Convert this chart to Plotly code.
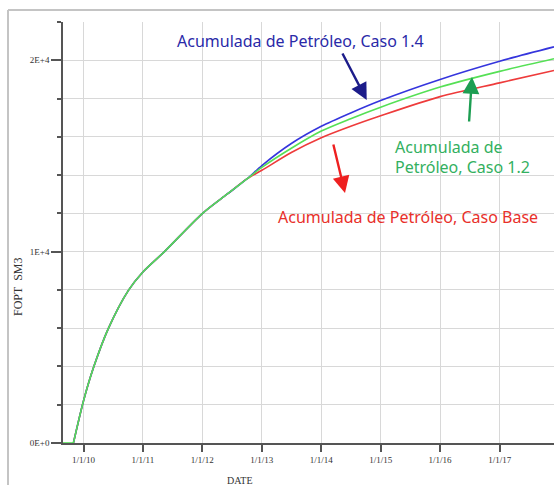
import plotly.graph_objects as go

# ---------------- data ----------------
shared_dates = ["2009-10-31", "2010-01-01", "2010-03-05", "2010-06-03",
                "2010-10-05", "2011-01-01", "2011-05-12", "2012-01-01", "2012-06-01",
                "2012-10-01"]
shared_vals = [0, 2200, 3980, 5990, 7990, 8940, 9990, 11990, 13000, 13800]
flat_dates = ["2009-08-28", "2009-10-31"]
flat_vals = [0, 0]

tail_dates = ["2013-01-01", "2013-07-01", "2014-01-01", "2014-07-01", "2015-01-01",
              "2016-01-01", "2017-01-01", "2017-12-01"]
caso_base = [14250, 15180, 15950, 16550, 17100, 18100, 18820, 19470]
caso_14 = [14500, 15650, 16550, 17250, 17900, 19000, 19950, 20700]
caso_12 = [14400, 15400, 16300, 16950, 17550, 18600, 19420, 20080]

year_ticks = ["2010-01-01", "2011-01-01", "2012-01-01", "2013-01-01", "2014-01-01",
              "2015-01-01", "2016-01-01", "2017-01-01", "2018-01-01"]
year_labels = ["1/1/10", "1/1/11", "1/1/12", "1/1/13", "1/1/14",
               "1/1/15", "1/1/16", "1/1/17", "1/1/18"]
y_tickvals = [0, 10000, 20000]
y_ticklabels = ["0E+0", "1E+4", "2E+4"]

# ---------------- layout geometry ----------------
W, H = 554, 485
ML, MR, MT, MB = 63, 0, 22, 42
PW, PH = W - ML - MR, H - MT - MB


def px(x):
    return (x - ML) / PW


def py(y):
    return 1 - (y - MT) / PH


fig = go.Figure()
series = [("Caso Base", caso_base, "#ee3b3b"),
          ("Caso 1.4", caso_14, "#3535dd"),
          ("Caso 1.2", caso_12, "#55e055")]
for name, vals, col in series:
    fig.add_trace(go.Scatter(
        x=shared_dates + tail_dates, y=shared_vals + vals, mode="lines",
        name=name, line=dict(color=col, width=1.6, shape="spline", smoothing=0.8),
        showlegend=False, hoverinfo="skip", cliponaxis=False))
fig.add_trace(go.Scatter(x=flat_dates, y=flat_vals, mode="lines",
                         line=dict(color="#55e055", width=1.6),
                         showlegend=False, hoverinfo="skip", cliponaxis=False))

serif = "Liberation Serif"
axcol = "#555555"
gridcol = "#d8d8d8"

fig.update_xaxes(
    type="date", range=["2009-08-28", "2017-12-01"],
    tickvals=year_ticks, ticktext=year_labels,
    ticks="outside", ticklen=7, tickcolor=axcol, tickwidth=1.5,
    showline=True, linecolor=axcol, linewidth=1.5,
    showgrid=True, gridcolor=gridcol, gridwidth=1,
    tickfont=dict(family=serif, size=9, color="#333333"),
    zeroline=False, fixedrange=True)
fig.update_yaxes(
    range=[0, 22000],
    tickvals=y_tickvals, ticktext=y_ticklabels,
    ticks="outside", ticklen=10, tickcolor=axcol, tickwidth=1.5,
    showline=True, linecolor=axcol, linewidth=1.5,
    showgrid=True, gridcolor=gridcol, gridwidth=1,
    minor=dict(dtick=2000, tick0=0, ticks="outside", ticklen=4, tickcolor=axcol,
               showgrid=True, gridcolor=gridcol),
    tickfont=dict(family=serif, size=9, color="#333333"),
    zeroline=False, fixedrange=True)

annots = []
sans = "Noto Sans"
fs = 16
# texts
annots.append(dict(xref="paper", yref="paper", x=px(300), y=py(41), showarrow=False,
                   text="Acumulada de Petróleo, Caso 1.4",
                   font=dict(family=sans, size=fs, color="#2a2aa8"),
                   xanchor="center", yanchor="middle"))
annots.append(dict(xref="paper", yref="paper", x=px(393), y=py(146.7), showarrow=False,
                   text="Acumulada de",
                   font=dict(family=sans, size=fs, color="#33b060"),
                   xanchor="left", yanchor="middle"))
annots.append(dict(xref="paper", yref="paper", x=px(393), y=py(166.7), showarrow=False,
                   text="Petróleo, Caso 1.2",
                   font=dict(family=sans, size=fs, color="#33b060"),
                   xanchor="left", yanchor="middle"))
annots.append(dict(xref="paper", yref="paper", x=px(407.5), y=py(216.7), showarrow=False,
                   text="Acumulada de Petróleo, Caso Base",
                   font=dict(family=sans, size=fs, color="#e8302a"),
                   xanchor="center", yanchor="middle"))
# arrows (head, tail in pixels)
for head, tail, col in [((366.7, 100), (341.7, 52), "#1c1c8a"),
                        ((472, 77), (469, 123), "#1d9e52"),
                        ((345, 193), (333, 143), "#ee2020")]:
    annots.append(dict(xref="paper", yref="paper", x=px(head[0]), y=py(head[1]),
                       axref="pixel", ayref="pixel",
                       ax=tail[0] - head[0], ay=tail[1] - head[1],
                       text="", showarrow=True, arrowhead=2, arrowsize=1.4,
                       arrowwidth=2.4, arrowcolor=col, standoff=0, startstandoff=0))
# axis titles
annots.append(dict(xref="paper", yref="paper", x=px(240), y=py(480), showarrow=False,
                   text="DATE", font=dict(family=serif, size=10, color="#333333"),
                   xanchor="center", yanchor="middle"))
annots.append(dict(xref="paper", yref="paper", x=px(18), y=py(287), showarrow=False,
                   text="FOPT  SM3", textangle=-90,
                   font=dict(family=serif, size=12, color="#333333"),
                   xanchor="center", yanchor="middle"))

shapes = [dict(type="line", xref="paper", yref="paper",
               x0=px(8), x1=px(8), y0=py(10), y1=py(495),
               line=dict(color="#c4c4c4", width=2)),
          dict(type="line", xref="paper", yref="paper",
               x0=px(8), x1=px(560), y0=py(10), y1=py(10),
               line=dict(color="#c4c4c4", width=2))]

fig.update_layout(
    width=W, height=H, autosize=False,
    margin=dict(l=ML, r=MR, t=MT, b=MB, pad=0),
    paper_bgcolor="white", plot_bgcolor="white",
    annotations=annots, shapes=shapes, showlegend=False)

fig.write_html("out.html", config={"displayModeBar": False})
